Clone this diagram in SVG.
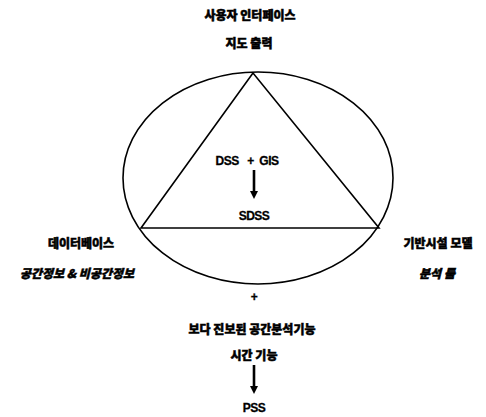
<svg xmlns="http://www.w3.org/2000/svg" width="486" height="417" viewBox="0 0 486 417">
<style>
.k{font-family:"Noto Sans CJK KR","Noto Sans",sans-serif;font-weight:900;font-size:12px;fill:#000;stroke:#000;stroke-width:0.5;text-anchor:middle}
.e{font-family:"Liberation Sans",Arial,sans-serif;font-weight:bold;font-size:12px;fill:#000;stroke:#000;stroke-width:0.3;text-anchor:middle;letter-spacing:-0.5px;white-space:pre}
.s{fill:none;stroke:#000;stroke-width:1.6}
.a{stroke:#000;stroke-width:2.6}
</style>
<rect width="486" height="417" fill="#fff"/>
<g id="frame">
<ellipse class="s" cx="258" cy="178" rx="135" ry="106"/>
<polygon class="s" points="253,73 141,228 379,228"/>
</g>
<g id="ui">
<text class="k" x="250" y="20">사용자 인터페이스</text>
<text class="k" x="249" y="48">지도 출력</text>
</g>
<g id="db">
<text class="k" x="81" y="248">데이터베이스</text>
<text class="k" x="77" y="278" font-style="italic">공간정보 &amp; 비공간정보</text>
</g>
<g id="infra">
<text class="k" x="438" y="248">기반시설 모델</text>
<text class="k" x="437" y="278" font-style="italic">분석 툴</text>
</g>
<g id="center">
<text class="e" x="247" y="165" xml:space="preserve">DSS   +  GIS</text>
<text class="e" x="254" y="220">SDSS</text>
</g>
<g id="plus">
<text class="e" x="254" y="301" font-size="9">+</text>
</g>
<g id="adv">
<text class="k" x="252" y="334">보다 진보된 공간분석기능</text>
<text class="k" x="254" y="360">시간 기능</text>
</g>
<g id="pss">
<text class="e" x="254" y="412">PSS</text>
</g>
<g id="connectors">
<line class="a" x1="254" y1="170" x2="254" y2="192"/>
<polygon points="250,191 258,191 254,199" fill="#000"/>
<line class="a" x1="254" y1="365" x2="254" y2="387"/>
<polygon points="250,386 258,386 254,394" fill="#000"/>
</g>
</svg>
